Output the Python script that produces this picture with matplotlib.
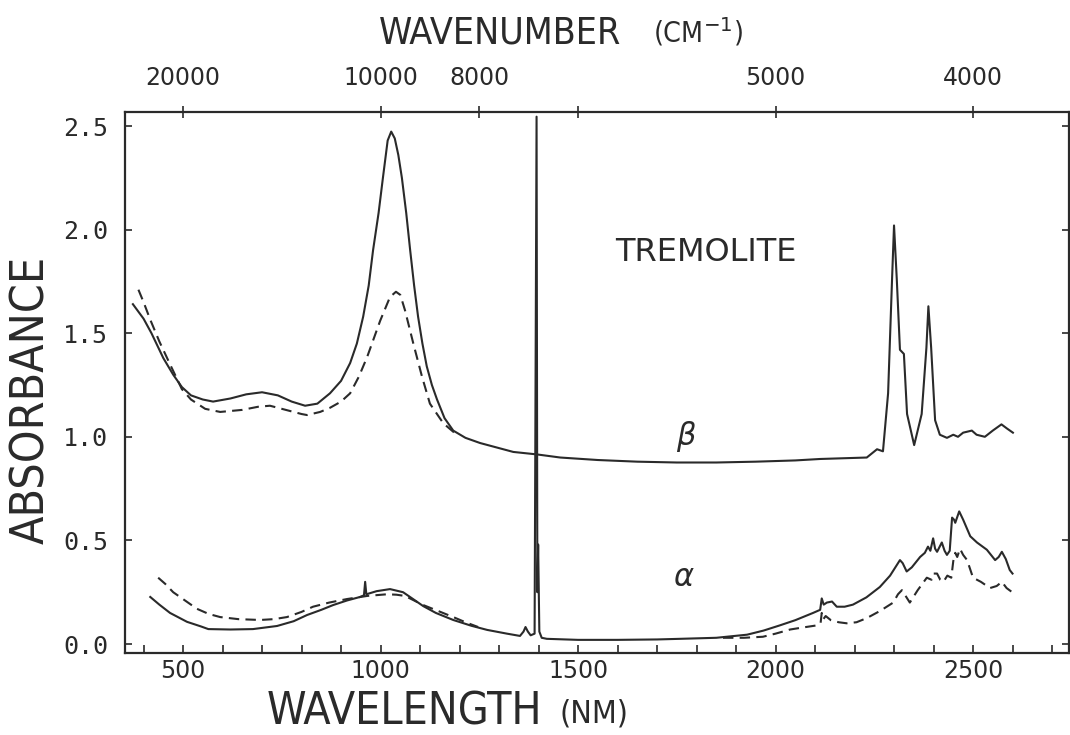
import numpy as np
import matplotlib
matplotlib.use('Agg')
import matplotlib.pyplot as plt
from matplotlib import font_manager

# ---------------- data ----------------
beta_solid_nm = [373, 400, 420, 450, 475, 497, 520, 550, 576, 620, 660, 700, 740, 775, 809, 840,
                 872, 900, 923, 940, 956, 970, 981, 995, 1006, 1018, 1027, 1036, 1045, 1054, 1065,
                 1075, 1085, 1095, 1106, 1117, 1130, 1143, 1162, 1184, 1215, 1252, 1336, 1396,
                 1455, 1550, 1650, 1750, 1850, 1950, 2050, 2113, 2231,
                 2257, 2272, 2285, 2295, 2300, 2307, 2315, 2325, 2333, 2351, 2370, 2382, 2387,
                 2394, 2404, 2416, 2434, 2450, 2462, 2475, 2497, 2509, 2530, 2550, 2572, 2586, 2601]
beta_solid_A = [1.64, 1.57, 1.50, 1.38, 1.30, 1.24, 1.20, 1.18, 1.17, 1.185, 1.205, 1.215, 1.20, 1.17,
                1.15, 1.16, 1.21, 1.27, 1.356, 1.45, 1.58, 1.73, 1.90, 2.08, 2.25, 2.43, 2.473, 2.44,
                2.36, 2.25, 2.08, 1.90, 1.73, 1.58, 1.45, 1.34, 1.25, 1.18, 1.09, 1.03, 0.995, 0.97,
                0.927, 0.915, 0.90, 0.888, 0.88, 0.876, 0.876, 0.88, 0.886, 0.893, 0.90,
                0.94, 0.93, 1.21, 1.76, 2.02, 1.76, 1.42, 1.40, 1.11, 0.96,
                1.11, 1.43, 1.63, 1.43, 1.08, 1.01, 0.995, 1.01, 1.00, 1.02, 1.03, 1.01, 1.00,
                1.03, 1.06, 1.04, 1.02]

beta_dash_nm = [387, 400, 417, 440, 467, 497, 520, 556, 594, 650, 690, 720, 760, 800, 814, 847, 872,
                900, 923, 945, 966, 999, 1024, 1039, 1050, 1062, 1083, 1105, 1125, 1159, 1193]
beta_dash_A = [1.71, 1.65, 1.565, 1.46, 1.35, 1.23, 1.18, 1.135, 1.12, 1.13, 1.145, 1.15, 1.13, 1.11,
               1.105, 1.12, 1.14, 1.17, 1.21, 1.29, 1.385, 1.56, 1.675, 1.70, 1.685, 1.61, 1.45, 1.29,
               1.16, 1.065, 1.01]

alpha_solid_nm = [417, 440, 467, 510, 545, 564, 620, 677, 738, 780, 814, 850, 880, 915, 948, 958, 961,
                  964, 990, 1024, 1057, 1080, 1108, 1140, 1184, 1230, 1270, 1320, 1353, 1362, 1367,
                  1373, 1380, 1390, 1395, 1397, 1399, 1402, 1408, 1421, 1500, 1600, 1700, 1758, 1850,
                  1928, 1970, 2011, 2050, 2095, 2113, 2117, 2122, 2130, 2143, 2155, 2175, 2196, 2230,
                  2264, 2290, 2315, 2322, 2332, 2345, 2366, 2378, 2386, 2392, 2399, 2404, 2409, 2421,
                  2428, 2434, 2441, 2447, 2452, 2455, 2465, 2475, 2484, 2493, 2510, 2535, 2556, 2565,
                  2573, 2583, 2593, 2600]
alpha_solid_A = [0.227, 0.19, 0.15, 0.107, 0.085, 0.072, 0.07, 0.072, 0.087, 0.11, 0.14, 0.165, 0.188,
                 0.21, 0.227, 0.235, 0.30, 0.24, 0.255, 0.265, 0.25, 0.22, 0.183, 0.15, 0.116, 0.088,
                 0.068, 0.05, 0.039, 0.06, 0.082, 0.06, 0.042, 0.05, 2.545, 0.25, 0.48, 0.06, 0.03,
                 0.025, 0.02, 0.02, 0.022, 0.025, 0.03, 0.045, 0.065, 0.09, 0.115, 0.15, 0.165, 0.22,
                 0.19, 0.20, 0.205, 0.18, 0.18, 0.19, 0.225, 0.275, 0.33, 0.405, 0.39, 0.35, 0.37,
                 0.42, 0.44, 0.47, 0.45, 0.51, 0.46, 0.445, 0.49, 0.45, 0.43, 0.45, 0.61, 0.60, 0.585,
                 0.64, 0.60, 0.56, 0.52, 0.49, 0.455, 0.405, 0.42, 0.445, 0.41, 0.357, 0.34]

alpha_dash1_nm = [437, 455, 475, 505, 535, 565, 594, 640, 695, 730, 763, 800, 829, 870, 915, 966, 1016,
                  1040, 1062, 1085, 1108, 1145, 1184, 1215, 1247]
alpha_dash1_A = [0.32, 0.29, 0.25, 0.21, 0.17, 0.145, 0.13, 0.12, 0.116, 0.12, 0.13, 0.155, 0.18, 0.20,
                 0.217, 0.232, 0.24, 0.238, 0.232, 0.21, 0.188, 0.16, 0.13, 0.105, 0.082]

alpha_dash2_nm = [1867, 1920, 1968, 2000, 2037, 2070, 2105, 2114, 2117, 2121, 2127, 2140, 2160, 2180,
                  2205, 2231, 2265, 2298, 2310, 2320, 2330, 2340, 2360, 2383, 2395, 2400, 2409, 2417,
                  2425, 2435, 2445, 2450, 2455, 2460, 2467, 2475, 2485, 2500, 2520, 2543, 2560, 2573,
                  2585, 2602]
alpha_dash2_A = [0.03, 0.03, 0.035, 0.05, 0.07, 0.08, 0.09, 0.10, 0.15, 0.12, 0.135, 0.115, 0.105, 0.10,
                 0.105, 0.125, 0.16, 0.20, 0.24, 0.26, 0.23, 0.20, 0.26, 0.32, 0.31, 0.34, 0.34, 0.31,
                 0.30, 0.33, 0.32, 0.40, 0.44, 0.42, 0.46, 0.43, 0.405, 0.32, 0.30, 0.27, 0.28, 0.30,
                 0.27, 0.246]

bottom_ticks = [500, 1000, 1500, 2000, 2500]
bottom_labels = ['500', '1000', '1500', '2000', '2500']
top_wavenumbers = [20000, 10000, 8000, 5000, 4000]
top_labels = ['20000', '10000', '8000', '5000', '4000']
y_ticks = [0.0, 0.5, 1.0, 1.5, 2.0, 2.5]
y_labels = ['0.0', '0.5', '1.0', '1.5', '2.0', '2.5']

# ---------------- fonts ----------------
ttf = font_manager.fontManager.ttflist
has_cond = any(f.name == 'DejaVu Sans' and f.stretch == 'condensed' for f in ttf)
title_kw = dict(family='DejaVu Sans', weight='light')
if has_cond:
    title_kw['stretch'] = 'condensed'
    title_size = 32
else:
    title_size = 28

INK = '#2a2a2a'
W, H = 1070, 735
fig = plt.figure(figsize=(W / 100, H / 100), dpi=100)
fig.patch.set_facecolor('white')

L, R, T, B = 125, 1069, 112, 653
ax = fig.add_axes([L / W, 1 - B / H, (R - L) / W, (B - T) / H])
ax.set_xlim(353, 2743)
ax.set_ylim(-0.0434, 2.5676)

lw = 1.5
dash = (0, (5, 3))
ax.plot(beta_solid_nm, beta_solid_A, color=INK, lw=lw)
ax.plot(beta_dash_nm, beta_dash_A, color=INK, lw=lw, ls=dash)
ax.plot(alpha_solid_nm, alpha_solid_A, color=INK, lw=lw)
ax.plot(alpha_dash1_nm, alpha_dash1_A, color=INK, lw=lw, ls=dash)
ax.plot(alpha_dash2_nm, alpha_dash2_A, color=INK, lw=lw, ls=dash)

for s in ax.spines.values():
    s.set_linewidth(1.6)
    s.set_color(INK)

ax.set_xticks(bottom_ticks)
ax.set_xticklabels(bottom_labels)
ax.set_xticks(np.arange(400, 2750, 100), minor=True)
ax.set_yticks(y_ticks)
ax.set_yticklabels(y_labels, family='DejaVu Sans Mono')
ax.tick_params(axis='x', which='both', direction='in', length=6, width=1.2, color=INK,
               labelsize=17, pad=4, labelcolor=INK)
ax.tick_params(axis='y', which='both', direction='in', length=5, width=1.2, color=INK,
               labelsize=18, pad=12, right=True, labelcolor=INK)

ax2 = ax.twiny()
ax2.set_xlim(ax.get_xlim())
ax2.set_xticks([1e7 / w for w in top_wavenumbers])
ax2.set_xticklabels(top_labels)
ax2.set_xticks([1500], minor=True)
ax2.tick_params(axis='x', which='both', direction='inout', length=8, width=1.2, color=INK,
                labelsize=17, pad=12, labelcolor=INK)
for s in ax2.spines.values():
    s.set_visible(False)

ax.text(0.660, 0.657, 'TREMOLITE', transform=fig.transFigure, ha='center', va='center',
        fontsize=23, color=INK)
ax.text(1773, 1.0, 'β', ha='center', va='center', fontsize=22, style='italic', color=INK)
ax.text(1766, 0.32, 'α', ha='center', va='center', fontsize=22, style='italic', color=INK)

fig.text(404 / W, 1 - 712 / H, 'WAVELENGTH', ha='center', va='center',
         fontsize=title_size, color=INK, **title_kw)
fig.text(594 / W, 1 - 714 / H, '(NM)', ha='center', va='center',
         fontsize=title_size * 0.72, color=INK, **title_kw)
fig.text(500 / W, 1 - 33 / H, 'WAVENUMBER', ha='center', va='center',
         fontsize=title_size * 0.84, color=INK, **title_kw)
fig.text(698 / W, 1 - 32 / H, r'(CM$^{-1}$)', ha='center', va='center',
         fontsize=title_size * 0.64, color=INK, **title_kw)
fig.text(32 / W, 1 - 400 / H, 'ABSORBANCE', ha='center', va='center', rotation=90,
         fontsize=title_size * 1.04, color=INK, **title_kw)

fig.savefig('out.png', dpi=100, facecolor='white')
